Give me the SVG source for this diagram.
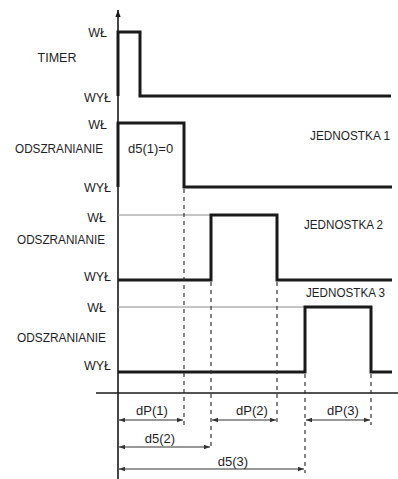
<svg xmlns="http://www.w3.org/2000/svg" width="398" height="479" viewBox="0 0 398 479">
<defs>
<style>
text{font-family:"Liberation Sans",Arial,sans-serif;font-size:12.5px;fill:#1e1e28}
.r{text-anchor:end}
.m{text-anchor:middle}
.n{font-size:13px}
.sig{fill:none;stroke:#1a1a1a;stroke-width:3;stroke-linejoin:miter}
.ref{stroke:#8a8a8a;stroke-width:1}
.dash{stroke:#333;stroke-width:1.2;stroke-dasharray:4,4}
.dim{stroke:#333;stroke-width:1.2;marker-start:url(#a);marker-end:url(#a)}
.ax{stroke:#1a1a1a;stroke-width:1.6}
</style>
<marker id="a" viewBox="0 0 8 6" refX="8" refY="3" markerWidth="6" markerHeight="5" orient="auto-start-reverse" markerUnits="userSpaceOnUse">
<path d="M0,0L8,3L0,6z" fill="#333"/>
</marker>
<marker id="ah" viewBox="0 0 8 6" refX="8" refY="3" markerWidth="7" markerHeight="6" orient="auto" markerUnits="userSpaceOnUse">
<path d="M0,0L8,3L0,6z" fill="#1a1a1a"/>
</marker>
</defs>
<g id="axes">
<line class="ax" x1="118" y1="479" x2="118" y2="10" marker-end="url(#ah)"/>
<line class="ax" x1="96" y1="393" x2="398" y2="393"/>
</g>
<g id="timer">
<text class="r" x="107" y="36.5">WŁ</text>
<text class="m" x="57" y="61.5">TIMER</text>
<text class="r" x="111" y="101.5">WYŁ</text>
<polyline class="sig" points="118,96 118,32 140,32 140,96 391,96"/>
</g>
<g id="unit1">
<text class="r" x="107" y="128.5">WŁ</text>
<text x="15" y="152.5" textLength="88" lengthAdjust="spacingAndGlyphs">ODSZRANIANIE</text>
<text class="r" x="111" y="191.5">WYŁ</text>
<text class="n" x="128" y="152.5">d5(1)=0</text>
<text x="310" y="139.5" textLength="80" lengthAdjust="spacingAndGlyphs">JEDNOSTKA 1</text>
<polyline class="sig" points="118,187 118,123 184,123 184,187 392,187"/>
</g>
<g id="unit2">
<text class="r" x="106" y="221.5">WŁ</text>
<text x="17" y="243.5" textLength="88" lengthAdjust="spacingAndGlyphs">ODSZRANIANIE</text>
<text class="r" x="111" y="280.5">WYŁ</text>
<text x="304" y="228.5" textLength="79" lengthAdjust="spacingAndGlyphs">JEDNOSTKA 2</text>
<line class="ref" x1="118" y1="215" x2="211" y2="215"/>
<polyline class="sig" points="118,280 211,280 211,215 277,215 277,280 392,280"/>
</g>
<g id="unit3">
<text class="r" x="106" y="311.5">WŁ</text>
<text x="17" y="341.5" textLength="89" lengthAdjust="spacingAndGlyphs">ODSZRANIANIE</text>
<text class="r" x="111" y="369.5">WYŁ</text>
<text x="306" y="296.5" textLength="79" lengthAdjust="spacingAndGlyphs">JEDNOSTKA 3</text>
<line class="ref" x1="118" y1="307" x2="305" y2="307"/>
<polyline class="sig" points="118,372 305,372 305,307 371,307 371,372 392,372"/>
</g>
<g id="connectors">
<line class="dash" x1="184" y1="189" x2="184" y2="425"/>
<line class="dash" x1="211" y1="282" x2="211" y2="449"/>
<line class="dash" x1="277" y1="282" x2="277" y2="425"/>
<line class="dash" x1="305" y1="374" x2="305" y2="473"/>
<line class="dash" x1="371" y1="374" x2="371" y2="425"/>
<line class="dim" x1="119" y1="420" x2="183" y2="420"/>
<line class="dim" x1="212" y1="420" x2="276" y2="420"/>
<line class="dim" x1="306" y1="420" x2="370" y2="420"/>
<line class="dim" x1="119" y1="447" x2="210" y2="447"/>
<line class="dim" x1="119" y1="469" x2="304" y2="469"/>
</g>
<g id="labels">
<text class="m n" x="152" y="415">dP(1)</text>
<text class="m n" x="252" y="415">dP(2)</text>
<text class="m n" x="343" y="415">dP(3)</text>
<text class="m n" x="160" y="443">d5(2)</text>
<text class="m n" x="233" y="466">d5(3)</text>
</g>
</svg>
